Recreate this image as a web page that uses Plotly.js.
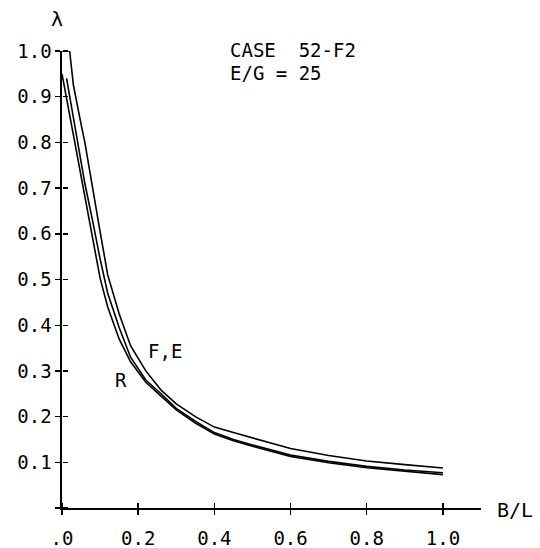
<!DOCTYPE html>
<html>
<head>
<meta charset="utf-8">
<script src="https://cdn.plot.ly/plotly-3.0.1.min.js"></script>
<style>html,body{margin:0;padding:0;background:#fff;}#chart{width:540px;height:548px;}</style>
</head>
<body>
<div id="chart"></div>
<script>
// Curve F (upper in the tail)
const xF = [0, 0.02, 0.03, 0.04, 0.05, 0.06, 0.08, 0.10, 0.12, 0.15, 0.18, 0.22, 0.26, 0.30, 0.35, 0.40, 0.45, 0.50, 0.60, 0.70, 0.80, 0.90, 1.00];
const yF = [1.0, 1.0, 0.925, 0.88, 0.84, 0.80, 0.70, 0.605, 0.51, 0.425, 0.355, 0.30, 0.258, 0.228, 0.20, 0.177, 0.165, 0.153, 0.13, 0.115, 0.103, 0.095, 0.0875];
// Curve E
const xE = [0.012, 0.02, 0.03, 0.04, 0.05, 0.06, 0.08, 0.10, 0.12, 0.15, 0.18, 0.22, 0.26, 0.30, 0.35, 0.40, 0.45, 0.50, 0.60, 0.70, 0.80, 0.90, 1.00];
const yE = [0.94, 0.90, 0.85, 0.80, 0.755, 0.71, 0.63, 0.545, 0.47, 0.395, 0.33, 0.28, 0.25, 0.218, 0.19, 0.165, 0.15, 0.138, 0.116, 0.102, 0.091, 0.083, 0.077];
// Curve R
const xR = [0, 0.01, 0.02, 0.03, 0.04, 0.05, 0.06, 0.08, 0.10, 0.12, 0.15, 0.18, 0.22, 0.26, 0.30, 0.35, 0.40, 0.45, 0.50, 0.60, 0.70, 0.80, 0.90, 1.00];
const yR = [0.95, 0.905, 0.862, 0.818, 0.775, 0.73, 0.685, 0.594, 0.503, 0.44, 0.37, 0.32, 0.275, 0.245, 0.215, 0.186, 0.162, 0.147, 0.135, 0.113, 0.099, 0.088, 0.080, 0.073];

const xTickVals = [0, 0.2, 0.4, 0.6, 0.8, 1.0];
const xTickText = [".0", "0.2", "0.4", "0.6", "0.8", "1.0"];
const yTickVals = [0, 0.1, 0.2, 0.3, 0.4, 0.5, 0.6, 0.7, 0.8, 0.9, 1.0];
const yTickText = ["", "0.1", "0.2", "0.3", "0.4", "0.5", "0.6", "0.7", "0.8", "0.9", "1.0"];

const FONT = "DejaVu Sans Mono";
const lineStyle = {color: "#000", width: 1.6};

const traces = [
  {x: xF, y: yF, name: "F", mode: "lines", line: lineStyle, cliponaxis: false, xaxis: "x", yaxis: "y"},
  {x: xE, y: yE, name: "E", mode: "lines", line: lineStyle, cliponaxis: false, xaxis: "x", yaxis: "y"},
  {x: xR, y: yR, name: "R", mode: "lines", line: lineStyle, cliponaxis: false, xaxis: "x2", yaxis: "y2"}
];

const axCommon = {
  showgrid: false, zeroline: false, showline: true, linecolor: "#000", linewidth: 1.6,
  tickcolor: "#000", tickwidth: 1.4, ticklen: 5, fixedrange: true, ticks: "outside", tickmode: "array"
};

const layout = {
  width: 540, height: 548,
  margin: {l: 62, r: 59, t: 51, b: 40},
  paper_bgcolor: "#fff", plot_bgcolor: "#fff",
  showlegend: false,
  font: {family: FONT, color: "#000", size: 19},
  xaxis: Object.assign({}, axCommon, {
    range: [0, 1.1], tickvals: xTickVals, ticktext: xTickText,
    tickfont: {family: FONT, size: 19, color: "#000"}, ticklabelstandoff: 8, anchor: "y"
  }),
  yaxis: Object.assign({}, axCommon, {
    range: [0, 1.0], tickvals: yTickVals, ticktext: yTickText,
    tickfont: {family: FONT, size: 19, color: "#000"}, ticklabelstandoff: 0, anchor: "x"
  }),
  // companion axes (ticks only) so that every tick crosses its axis
  xaxis2: Object.assign({}, axCommon, {
    showline: false, range: [0, 1.1], tickvals: xTickVals, showticklabels: false,
    overlaying: "x", anchor: "free", position: 0, side: "top"
  }),
  yaxis2: Object.assign({}, axCommon, {
    showline: false, range: [0, 1.0], tickvals: yTickVals, showticklabels: false,
    overlaying: "y", anchor: "free", position: 0, side: "right"
  }),
  annotations: [
    {text: "λ", xref: "paper", yref: "paper", x: -0.012, y: 1.07, showarrow: false, xanchor: "center", yanchor: "middle", font: {family: FONT, size: 20, color: "#000"}},
    {text: "CASE&nbsp;&nbsp;52-F2", xref: "paper", yref: "paper", x: 0.397, y: 1.002, showarrow: false, xanchor: "left", yanchor: "middle", font: {family: FONT, size: 19, color: "#000"}},
    {text: "E/G = 25", xref: "paper", yref: "paper", x: 0.397, y: 0.952, showarrow: false, xanchor: "left", yanchor: "middle", font: {family: FONT, size: 19, color: "#000"}},
    {text: "F,E", xref: "paper", yref: "paper", x: 0.246, y: 0.344, showarrow: false, xanchor: "center", yanchor: "middle", font: {family: FONT, size: 19, color: "#000"}},
    {text: "R", xref: "paper", yref: "paper", x: 0.141, y: 0.280, showarrow: false, xanchor: "center", yanchor: "middle", font: {family: FONT, size: 19, color: "#000"}},
    {text: "B/L", xref: "paper", yref: "paper", x: 1.081, y: -0.004, showarrow: false, xanchor: "center", yanchor: "middle", font: {family: FONT, size: 20, color: "#000"}}
  ]
};

Plotly.newPlot("chart", traces, layout, {displayModeBar: false, staticPlot: true});
</script>
</body>
</html>
